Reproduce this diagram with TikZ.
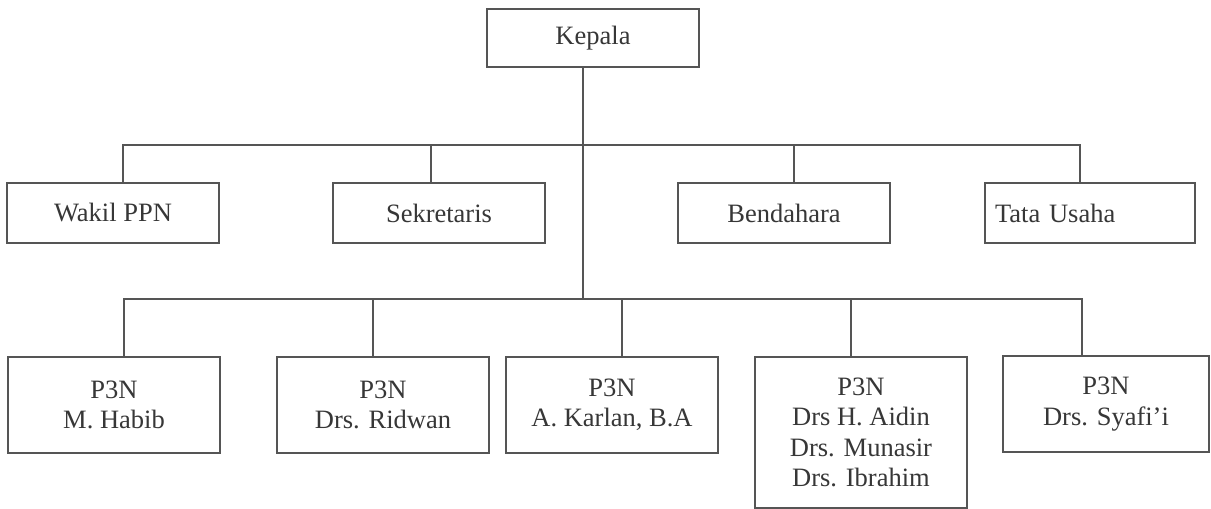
\documentclass[tikz,border=0pt]{standalone}
\usepackage{fontspec}
\setmainfont{Liberation Serif}
\newfontfamily\orgfont{Liberation Serif}
\definecolor{ln}{RGB}{85,85,85}
\definecolor{tx}{RGB}{55,55,55}
\begin{document}
\begin{tikzpicture}[x=1pt,y=-1pt,
  box/.style={draw=ln,line width=1.5pt,rectangle,inner sep=0pt,align=center,
    text=tx,font=\orgfont\fontsize{26.5}{30.5}\selectfont},
  rowone/.style={box,minimum width=212pt,minimum height=60pt},
  rowtwo/.style={box,minimum width=212pt,minimum height=96pt},
  conn/.style={draw=ln,line width=1.5pt}]
\useasboundingbox (0,0) rectangle (1211,509);
\fill[white] (0,0) rectangle (1211,509);
% top
\node[box,minimum width=212pt,minimum height=58pt] (kep) at (593,38) {Kepala};
% row one
\node[rowone] (wak) at (113,213) {Wakil PPN};
\node[rowone] (sek) at (439,213) {Sekretaris};
\node[rowone] (ben) at (784,213) {Bendahara};
\node[rowone,minimum width=210pt,text width=190pt,align=left,inner xsep=10pt] (tat) at (1090,213) {Tata Usaha};
% row two
\node[rowtwo] (hab) at (114,405) {P3N\\M. Habib};
\node[rowtwo] (rid) at (383,405) {P3N\\Drs. Ridwan};
\node[rowtwo] (kar) at (612,405) {P3N\\A. Karlan, B.A};
\node[box,minimum width=212pt,minimum height=151pt] (aid) at (861,432.5) {P3N\\Drs H. Aidin\\Drs. Munasir\\Drs. Ibrahim};
\node[rowtwo,minimum width=206pt] (sya) at (1106,404) {P3N\\Drs. Syafi’i};
% junctions
\coordinate (ja) at (583,145);
\coordinate (jb) at (583,299);
\coordinate (a1) at (123,145);
\coordinate (a2) at (431,145);
\coordinate (a3) at (794,145);
\coordinate (a4) at (1080,145);
\coordinate (b1) at (124,299);
\coordinate (b2) at (373,299);
\coordinate (b3) at (622,299);
\coordinate (b4) at (851,299);
\coordinate (b5) at (1082,299);
% connectors
\draw[conn] (kep.south -| ja) -- (jb);
\draw[conn] (wak.north -| a1) -- (a1) -- (a4) -- (a4 |- tat.north);
\draw[conn] (a2) -- (a2 |- sek.north);
\draw[conn] (a3) -- (a3 |- ben.north);
\draw[conn] (hab.north -| b1) -- (b1) -- (b5) -- (b5 |- sya.north);
\draw[conn] (b2) -- (b2 |- rid.north);
\draw[conn] (b3) -- (b3 |- kar.north);
\draw[conn] (b4) -- (b4 |- aid.north);
\end{tikzpicture}
\end{document}
